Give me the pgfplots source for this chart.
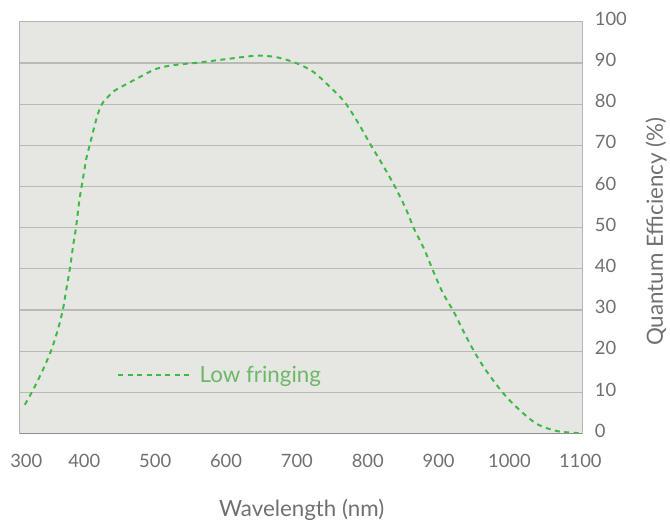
\documentclass[border=0pt]{standalone}
\usepackage{fontspec}
\setmainfont{Lato}
\usepackage{pgfplots}
\pgfplotsset{compat=1.18}

\definecolor{bgplot}{HTML}{E6E6E2}
\definecolor{gridgray}{HTML}{B9B9B5}
\definecolor{bordergray}{HTML}{B4B4B2}
\definecolor{basegray}{HTML}{8E8E8C}
\definecolor{labelgray}{HTML}{707070}
\definecolor{qegreen}{HTML}{3DBA45}
\definecolor{leggreen}{HTML}{6DB868}

\begin{document}
\begin{tikzpicture}
\begin{axis}[
	name=ax,
	scale only axis,
	width=567pt, height=415pt,
	xmin=309, xmax=1103,
	ymin=0, ymax=100,
	axis background/.style={fill=bgplot},
	axis line style={draw=bordergray, line width=1pt},
	xtick={318,400,500,600,700,800,900,1000,1100},
	xticklabels={300,400,500,600,700,800,900,1000,1100},
	ytick={0,10,...,100},
	ymajorgrids,
	grid style={draw=gridgray, line width=1.2pt},
	major tick length=0pt,
	yticklabel pos=right,
	/pgf/number format/assume math mode=true,
	ticklabel style={font=\fontsize{18.5}{21}\selectfont, text=labelgray},
	yticklabel style={anchor=west, xshift=9pt, yshift=3pt},
	xticklabel style={anchor=north, yshift=-17.5pt},
	xlabel={Wavelength (nm)},
	ylabel={Quantum Efficiency (\%)},
	label style={font=\fontsize{22.5}{26}\selectfont, text=labelgray},
	xlabel style={at={(axis description cs:0.501,-0.186)}, anchor=center},
	ylabel style={at={(axis description cs:1.131,0.49)}, anchor=center},
	legend style={at={(axis description cs:0.173,0.143)}, anchor=west,
		draw=none, fill=none, inner sep=0pt,
		font=\fontsize{22.5}{26}\selectfont, text=leggreen},
	legend image code/.code={\draw[#1] (0pt,0pt) -- (73pt,0pt); \path (79pt,0pt);},
]
\addplot[qegreen, line width=2pt, dash pattern=on 5pt off 4.5pt, smooth] coordinates {
	(316,7.0) (327.6,10.6) (341.6,15.5) (353.4,20.3) (362.6,25.2)
	(369.6,30.0) (374.4,34.8) (380,40.5) (384.6,46.1) (388.4,50.2)
	(393,56.6) (397.6,61.5) (403.2,67.1) (408,70.3) (416.4,76.0)
	(423.4,79.6) (430.4,81.2) (442,83.2) (463,85.2) (481.6,86.9)
	(500.4,88.5) (519,89.3) (542.4,89.8) (561,90.1) (593.6,90.8)
	(626.4,91.5) (645,91.8) (668.4,91.5) (687,90.7) (705.6,89.5)
	(724.4,87.7) (743,84.8) (766.5,80.7) (785.3,75.8) (804.2,70.1)
	(818.2,66.1) (837.1,60.4) (853.5,54.7) (865.2,49.8) (879.4,44.9)
	(891.1,40.0) (905.3,34.4) (921.6,29.5) (935.8,24.6) (952.3,19.3)
	(968.7,14.9) (992.2,9.6) (1015.7,5.5) (1039.2,2.3) (1067.5,0.6)
	(1100,0.1)
};
\addlegendentry{Low fringing}
\draw[basegray, line width=1.2pt] (rel axis cs:0,0) -- (rel axis cs:1,0);
\end{axis}
\path[use as bounding box] ([shift={(-20pt,-87pt)}]ax.south west) rectangle ([shift={(83pt,22pt)}]ax.north east);
\end{tikzpicture}
\end{document}
